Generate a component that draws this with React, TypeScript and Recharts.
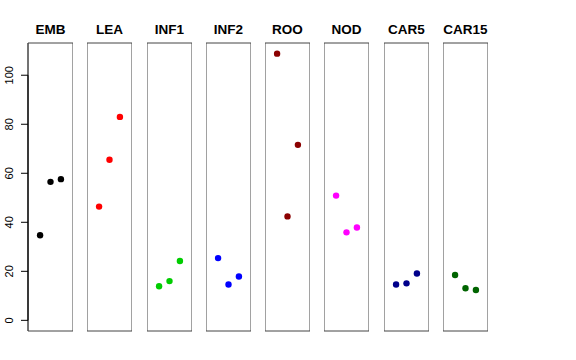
import React from "react";
import {
  ScatterChart,
  Scatter,
  XAxis,
  YAxis,
  ReferenceArea,
  ReferenceLine,
} from "recharts";

const categories = ["EMB", "LEA", "INF1", "INF2", "ROO", "NOD", "CAR5", "CAR15"];
const xPositions = [1, 2, 3];

const embValues = [34.7, 56.5, 57.6];
const leaValues = [46.4, 65.5, 83.0];
const inf1Values = [13.9, 16.0, 24.2];
const inf2Values = [25.4, 14.6, 17.9];
const rooValues = [108.8, 42.4, 71.6];
const nodValues = [50.9, 35.9, 37.9];
const car5Values = [14.6, 15.1, 19.1];
const car15Values = [18.5, 13.1, 12.4];

const seriesValues = [
  embValues,
  leaValues,
  inf1Values,
  inf2Values,
  rooValues,
  nodValues,
  car5Values,
  car15Values,
];

const colors = [
  "#000000", // black
  "#ff0000", // red
  "#00cd00", // green3
  "#0000ff", // blue
  "#8b0000", // darkred
  "#ff00ff", // magenta
  "#00008b", // darkblue
  "#006400", // darkgreen
];

const yTicks = [0, 20, 40, 60, 80, 100];

const X_DOMAIN: [number, number] = [-0.16, 4.16];
const Y_DOMAIN: [number, number] = [-4.35, 113.15];

const FONT = "'Liberation Sans', Arial, Helvetica, sans-serif";
const AXIS_W = 28;
const PANEL_W = 45;
const PANEL_STEP = 59.25;
const TOP = 43;
const BOTTOM = 360 - 331;
const BORDER = "#444";

function YTick(props: any) {
  const { y, payload } = props;
  const x = 13.3;
  return (
    <text
      x={x}
      y={y}
      textAnchor="middle"
      fontSize={11}
      fontFamily={FONT}
      fill="#000"
      transform={`rotate(-90, ${x}, ${y})`}
    >
      {payload.value}
    </text>
  );
}

function Panel({ index }: { index: number }) {
  const first = index === 0;
  const color = colors[index];
  const data = xPositions.map((x, j) => ({ x, y: seriesValues[index][j] }));
  const left = first ? 0 : Math.round(AXIS_W + index * PANEL_STEP);

  return (
    <div style={{ position: "absolute", left, top: 0 }}>
      <ScatterChart
        width={first ? AXIS_W + PANEL_W : PANEL_W}
        height={360}
        margin={{ top: TOP, right: 0, bottom: BOTTOM, left: 0 }}
        style={{ overflow: "visible" }}
      >
        <XAxis type="number" dataKey="x" domain={X_DOMAIN} allowDataOverflow hide />
        <YAxis
          type="number"
          dataKey="y"
          domain={Y_DOMAIN}
          allowDataOverflow
          hide={!first}
          width={AXIS_W}
          ticks={yTicks}
          interval={0}
          axisLine={false}
          tickSize={7}
          tickLine={{ stroke: "#000" }}
          tick={<YTick />}
        />
        <ReferenceArea
          x1={X_DOMAIN[0]}
          x2={X_DOMAIN[1]}
          y1={Y_DOMAIN[0]}
          y2={Y_DOMAIN[1]}
          fill="none"
          fillOpacity={0}
          stroke={BORDER}
          strokeOpacity={1}
          strokeWidth={1}
          label={{
            value: categories[index],
            position: "top",
            offset: 9,
            fontSize: 13.5,
            fontWeight: "bold",
            fontFamily: FONT,
            fill: "#000",
          }}
        />
        {first && (
          <ReferenceLine
            segment={[
              { x: X_DOMAIN[0], y: Y_DOMAIN[0] },
              { x: X_DOMAIN[0], y: Y_DOMAIN[1] },
            ]}
            stroke={BORDER}
            strokeWidth={1}
          />
        )}
        {first && (
          <ReferenceLine
            segment={[
              { x: X_DOMAIN[0], y: yTicks[0] },
              { x: X_DOMAIN[0], y: yTicks[yTicks.length - 1] },
            ]}
            stroke="#000"
            strokeWidth={1}
          />
        )}
        <Scatter
          data={data}
          isAnimationActive={false}
          shape={(p: any) => <circle cx={p.cx} cy={p.cy} r={3.2} fill={color} />}
        />
      </ScatterChart>
    </div>
  );
}

export default function App() {
  return (
    <div
      style={{
        position: "absolute",
        left: 0,
        top: 0,
        width: 576,
        height: 360,
        background: "#fff",
        fontFamily: FONT,
      }}
    >
      {categories.map((c, i) => (
        <Panel key={c} index={i} />
      ))}
    </div>
  );
}
